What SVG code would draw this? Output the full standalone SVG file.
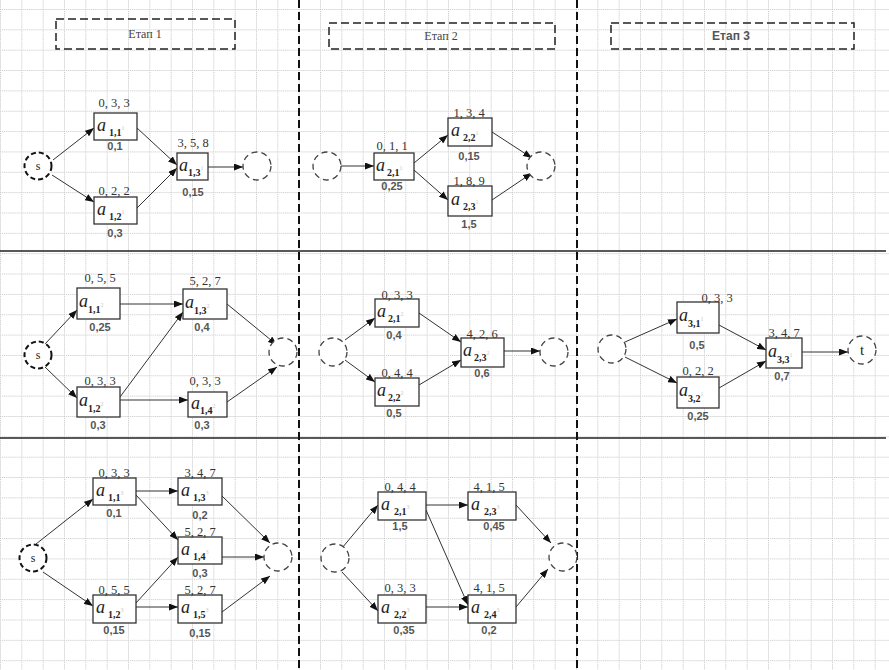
<svg xmlns="http://www.w3.org/2000/svg" width="889" height="670" viewBox="0 0 889 670">
<style>
.box{fill:#fff;stroke:#333;stroke-width:1.3}
.circ{fill:#fff;stroke:#444;stroke-width:1.3;stroke-dasharray:6,4}
.circs{fill:#fff;stroke:#111;stroke-width:2;stroke-dasharray:5,3}
.tri{font-family:"Liberation Serif",serif;font-size:12.5px;fill:#333;text-anchor:middle}
.prob{font-family:"Liberation Sans",sans-serif;font-size:11px;font-weight:bold;fill:#555;text-anchor:middle}
.lbl{font-family:"Liberation Serif",serif;font-size:18px;font-style:italic;fill:#222}
.sub{font-size:10px;font-style:normal;font-weight:bold}
.sup{font-size:6px;fill:#c8c8c8;font-style:normal;font-weight:normal}
.ct{font-family:"Liberation Serif",serif;font-size:12px;fill:#222;text-anchor:middle}
.edge{stroke:#333;stroke-width:1;fill:none;marker-end:url(#arr)}
.stage{fill:none;stroke:#222;stroke-width:1.5;stroke-dasharray:8,4}
.st{font-family:"Liberation Serif",serif;font-size:12px;fill:#444;text-anchor:middle}
.st3{font-family:"Liberation Sans",sans-serif;font-size:12px;font-weight:bold;fill:#555;text-anchor:middle}
</style>
<defs>
<pattern id="grid" width="21.333" height="20.35" patternUnits="userSpaceOnUse" y="9">
<path d="M0,0.5 H21.333 M0.5,0 V20.35" stroke="#c4c4c4" stroke-width="1" stroke-dasharray="1,1" fill="none"/>
</pattern>
<marker id="arr" markerWidth="9" markerHeight="7" refX="9" refY="3.5" orient="auto" markerUnits="userSpaceOnUse">
<path d="M0,0 L9,3.5 L0,7 z" fill="#111"/>
</marker>
</defs>
<rect width="889" height="670" fill="#fff"/>
<rect width="889" height="670" fill="url(#grid)"/>
<g id="frame">
<line x1="0" y1="251" x2="886" y2="251" stroke="#222" stroke-width="1.5"/>
<line x1="0" y1="438" x2="886" y2="438" stroke="#222" stroke-width="1.5"/>
<line x1="299" y1="0" x2="299" y2="670" stroke="#111" stroke-width="2" stroke-dasharray="8,4"/>
<line x1="577" y1="0" x2="577" y2="670" stroke="#111" stroke-width="2" stroke-dasharray="8,4"/>
</g>
<g id="stage1"><rect class="stage" x="56" y="19" width="179" height="30"/><text class="st" x="145" y="38">Етап 1</text></g>
<g id="stage2"><rect class="stage" x="329" y="23" width="226" height="26"/><text class="st" x="441" y="40">Етап 2</text></g>
<g id="stage3"><rect class="stage" x="611" y="23" width="243" height="26"/><text class="st3" x="731" y="40">Етап 3</text></g>

<g id="connectors">
<path class="edge" d="M53,160 L94,128"/>
<path class="edge" d="M52,175 L94,202"/>
<path class="edge" d="M137,128 L177,165"/>
<path class="edge" d="M137,208 L177,168"/>
<path class="edge" d="M207,167 L243,167"/>
<path class="edge" d="M341,166 L374,166"/>
<path class="edge" d="M414,163 L448,135"/>
<path class="edge" d="M414,170 L448,200"/>
<path class="edge" d="M492,132 L532,158"/>
<path class="edge" d="M492,200 L532,173"/>

<path class="edge" d="M45,344 L77,310"/>
<path class="edge" d="M45,367 L77,398"/>
<path class="edge" d="M120,304 L183,304"/>
<path class="edge" d="M120,397 L183,312"/>
<path class="edge" d="M120,400 L188,400"/>
<path class="edge" d="M227,304 L277,345"/>
<path class="edge" d="M227,402 L277,367"/>
<path class="edge" d="M345,340 L375,318"/>
<path class="edge" d="M345,360 L375,382"/>
<path class="edge" d="M419,313 L461,342"/>
<path class="edge" d="M419,385 L461,360"/>
<path class="edge" d="M504,351 L540,351"/>
<path class="edge" d="M625,342 L677,319"/>
<path class="edge" d="M625,357 L677,383"/>
<path class="edge" d="M719,325 L766,350"/>
<path class="edge" d="M719,388 L766,361"/>
<path class="edge" d="M802,352 L848,352"/>

<path class="edge" d="M36,544 L93,499"/>
<path class="edge" d="M43,572 L93,606"/>
<path class="edge" d="M136,491 L178,491"/>
<path class="edge" d="M136,495 L178,540"/>
<path class="edge" d="M136,603 L178,557"/>
<path class="edge" d="M136,607 L178,607"/>
<path class="edge" d="M222,496 L270,543"/>
<path class="edge" d="M222,557 L264,557"/>
<path class="edge" d="M222,612 L270,576"/>
<path class="edge" d="M342,548 L378,505"/>
<path class="edge" d="M342,572 L378,611"/>
<path class="edge" d="M426,505 L468,505"/>
<path class="edge" d="M426,510 L468,605"/>
<path class="edge" d="M426,607 L468,607"/>
<path class="edge" d="M516,505 L551,543"/>
<path class="edge" d="M516,607 L548,569"/>
</g>

<!-- Row 1 -->
<g id="r1_s"><circle class="circs" cx="38" cy="166" r="13.5"/><text class="ct" x="38" y="170">s</text></g>
<g id="r1_a11"><rect class="box" x="94" y="113" width="43" height="27"/><text class="lbl" x="97" y="131">a<tspan class="sub" dx="3" dy="5">1,1</tspan><tspan class="sup" dy="-6">1</tspan></text><text class="tri" x="114" y="107">0, 3, 3</text><text class="prob" x="115" y="150">0,1</text></g>
<g id="r1_a12"><rect class="box" x="94" y="197" width="43" height="27"/><text class="lbl" x="97" y="215">a<tspan class="sub" dx="3" dy="5">1,2</tspan><tspan class="sup" dy="-6">1</tspan></text><text class="tri" x="114" y="195">0, 2, 2</text><text class="prob" x="115" y="237">0,3</text></g>
<g id="r1_a13"><rect class="box" x="177" y="153" width="31" height="27"/><text class="lbl" x="179" y="171">a<tspan class="sub" dy="5">1,3</tspan><tspan class="sup" dy="-6">1</tspan></text><text class="tri" x="193" y="147">3, 5, 8</text><text class="prob" x="193" y="196">0,15</text></g>
<g id="r1_e1"><circle class="circ" cx="257" cy="166" r="14"/></g>
<g id="r1_c2"><circle class="circ" cx="327" cy="166" r="14"/></g>
<g id="r1_a21"><rect class="box" x="374" y="153" width="40" height="27"/><text class="lbl" x="376" y="171">a<tspan class="sub" dx="2" dy="5">2,1</tspan><tspan class="sup" dy="-6">1</tspan></text><text class="tri" x="392" y="150">0, 1, 1</text><text class="prob" x="392" y="190">0,25</text></g>
<g id="r1_a22"><rect class="box" x="448" y="118" width="44" height="28"/><text class="lbl" x="451" y="136">a<tspan class="sub" dx="3" dy="5">2,2</tspan><tspan class="sup" dy="-6">1</tspan></text><text class="tri" x="469" y="117">1, 3, 4</text><text class="prob" x="469" y="160">0,15</text></g>
<g id="r1_a23"><rect class="box" x="448" y="186" width="44" height="30"/><text class="lbl" x="451" y="205">a<tspan class="sub" dx="3" dy="5">2,3</tspan><tspan class="sup" dy="-6">1</tspan></text><text class="tri" x="469" y="185">1, 8, 9</text><text class="prob" x="469" y="228">1,5</text></g>
<g id="r1_e2"><circle class="circ" cx="541" cy="166" r="14"/></g>

<!-- Row 2 -->
<g id="r2_s"><circle class="circs" cx="38" cy="355" r="13.5"/><text class="ct" x="38" y="359">s</text></g>
<g id="r2_a11"><rect class="box" x="77" y="288" width="43" height="31"/><text class="lbl" x="79" y="307">a<tspan class="sub" dy="6">1,1</tspan><tspan class="sup" dy="-6">2</tspan></text><text class="tri" x="100" y="282">0, 5, 5</text><text class="prob" x="100" y="331">0,25</text></g>
<g id="r2_a12"><rect class="box" x="77" y="387" width="43" height="30"/><text class="lbl" x="79" y="406">a<tspan class="sub" dy="6">1,2</tspan><tspan class="sup" dy="-6">2</tspan></text><text class="tri" x="100" y="385">0, 3, 3</text><text class="prob" x="98" y="429">0,3</text></g>
<g id="r2_a13"><rect class="box" x="183" y="289" width="44" height="30"/><text class="lbl" x="185" y="308">a<tspan class="sub" dy="6">1,3</tspan><tspan class="sup" dy="-6">2</tspan></text><text class="tri" x="205" y="285">5, 2, 7</text><text class="prob" x="202" y="331">0,4</text></g>
<g id="r2_a14"><rect class="box" x="188" y="392" width="39" height="25"/><text class="lbl" x="191" y="409">a<tspan class="sub" dy="5">1,4</tspan><tspan class="sup" dy="-6">2</tspan></text><text class="tri" x="205" y="385">0, 3, 3</text><text class="prob" x="202" y="429">0,3</text></g>
<g id="r2_e1"><circle class="circ" cx="283" cy="352" r="14"/></g>
<g id="r2_c2"><circle class="circ" cx="333" cy="352" r="14"/></g>
<g id="r2_a21"><rect class="box" x="375" y="299" width="44" height="28"/><text class="lbl" x="377" y="317">a<tspan class="sub" dx="2" dy="5">2,1</tspan><tspan class="sup" dy="-6">2</tspan></text><text class="tri" x="397" y="299">0, 3, 3</text><text class="prob" x="394" y="339">0,4</text></g>
<g id="r2_a22"><rect class="box" x="375" y="378" width="44" height="28"/><text class="lbl" x="377" y="396">a<tspan class="sub" dx="2" dy="5">2,2</tspan><tspan class="sup" dy="-6">2</tspan></text><text class="tri" x="397" y="377">0, 4, 4</text><text class="prob" x="394" y="417">0,5</text></g>
<g id="r2_a23"><rect class="box" x="461" y="338" width="43" height="29"/><text class="lbl" x="463" y="356">a<tspan class="sub" dx="2" dy="5">2,3</tspan><tspan class="sup" dy="-6">2</tspan></text><text class="tri" x="482" y="338">4, 2, 6</text><text class="prob" x="482" y="377">0,6</text></g>
<g id="r2_e2"><circle class="circ" cx="554" cy="352" r="14"/></g>
<g id="r2_c3"><circle class="circ" cx="612" cy="349" r="14"/></g>
<g id="r2_a31"><rect class="box" x="677" y="302" width="42" height="31"/><text class="lbl" x="679" y="321">a<tspan class="sub" dy="6">3,1</tspan><tspan class="sup" dy="-6">1</tspan></text><text class="tri" x="717" y="302">0, 3, 3</text><text class="prob" x="697" y="349">0,5</text></g>
<g id="r2_a32"><rect class="box" x="677" y="377" width="42" height="31"/><text class="lbl" x="679" y="396">a<tspan class="sub" dy="6">3,2</tspan><tspan class="sup" dy="-6">1</tspan></text><text class="tri" x="698" y="375">0, 2, 2</text><text class="prob" x="698" y="420">0,25</text></g>
<g id="r2_a33"><rect class="box" x="766" y="338" width="36" height="30"/><text class="lbl" x="768" y="357">a<tspan class="sub" dy="6">3,3</tspan><tspan class="sup" dy="-6">1</tspan></text><text class="tri" x="784" y="337">3, 4, 7</text><text class="prob" x="782" y="380">0,7</text></g>
<g id="r2_t"><circle class="circ" cx="862" cy="350" r="14"/><text class="ct" x="862" y="355" style="font-size:15px">t</text></g>

<!-- Row 3 -->
<g id="r3_s"><circle class="circs" cx="33" cy="558" r="13.5"/><text class="ct" x="33" y="562">s</text></g>
<g id="r3_a11"><rect class="box" x="93" y="478" width="43" height="27"/><text class="lbl" x="96" y="496">a<tspan class="sub" dx="3" dy="5">1,1</tspan><tspan class="sup" dy="-6">3</tspan></text><text class="tri" x="114" y="477">0, 3, 3</text><text class="prob" x="114" y="517">0,1</text></g>
<g id="r3_a12"><rect class="box" x="93" y="595" width="43" height="28"/><text class="lbl" x="96" y="613">a<tspan class="sub" dx="3" dy="5">1,2</tspan><tspan class="sup" dy="-6">3</tspan></text><text class="tri" x="114" y="594">0, 5, 5</text><text class="prob" x="114" y="634">0,15</text></g>
<g id="r3_a13"><rect class="box" x="178" y="478" width="44" height="27"/><text class="lbl" x="181" y="496">a<tspan class="sub" dx="3" dy="5">1,3</tspan><tspan class="sup" dy="-6">3</tspan></text><text class="tri" x="200" y="477">3, 4, 7</text><text class="prob" x="200" y="519">0,2</text></g>
<g id="r3_a14"><rect class="box" x="178" y="537" width="44" height="27"/><text class="lbl" x="181" y="555">a<tspan class="sub" dx="3" dy="5">1,4</tspan><tspan class="sup" dy="-6">3</tspan></text><text class="tri" x="200" y="536">5, 2, 7</text><text class="prob" x="200" y="577">0,3</text></g>
<g id="r3_a15"><rect class="box" x="178" y="595" width="44" height="28"/><text class="lbl" x="181" y="613">a<tspan class="sub" dx="3" dy="5">1,5</tspan><tspan class="sup" dy="-6">3</tspan></text><text class="tri" x="200" y="594">5, 2, 7</text><text class="prob" x="200" y="637">0,15</text></g>
<g id="r3_e1"><circle class="circ" cx="278" cy="557" r="14"/></g>
<g id="r3_c2"><circle class="circ" cx="335" cy="558" r="14"/></g>
<g id="r3_a21"><rect class="box" x="378" y="492" width="48" height="28"/><text class="lbl" x="381" y="510">a<tspan class="sub" dx="4" dy="5">2,1</tspan><tspan class="sup" dy="-6">3</tspan></text><text class="tri" x="400" y="491">0, 4, 4</text><text class="prob" x="400" y="530">1,5</text></g>
<g id="r3_a22"><rect class="box" x="378" y="595" width="48" height="28"/><text class="lbl" x="381" y="613">a<tspan class="sub" dx="4" dy="5">2,2</tspan><tspan class="sup" dy="-6">3</tspan></text><text class="tri" x="400" y="592">0, 3, 3</text><text class="prob" x="404" y="634">0,35</text></g>
<g id="r3_a23"><rect class="box" x="468" y="492" width="48" height="28"/><text class="lbl" x="471" y="510">a<tspan class="sub" dx="4" dy="5">2,3</tspan><tspan class="sup" dy="-6">3</tspan></text><text class="tri" x="489" y="491">4, 1, 5</text><text class="prob" x="494" y="530">0,45</text></g>
<g id="r3_a24"><rect class="box" x="468" y="595" width="48" height="28"/><text class="lbl" x="471" y="613">a<tspan class="sub" dx="4" dy="5">2,4</tspan><tspan class="sup" dy="-6">3</tspan></text><text class="tri" x="489" y="592">4, 1, 5</text><text class="prob" x="489" y="634">0,2</text></g>
<g id="r3_e2"><circle class="circ" cx="563" cy="557" r="14"/></g>
</svg>
